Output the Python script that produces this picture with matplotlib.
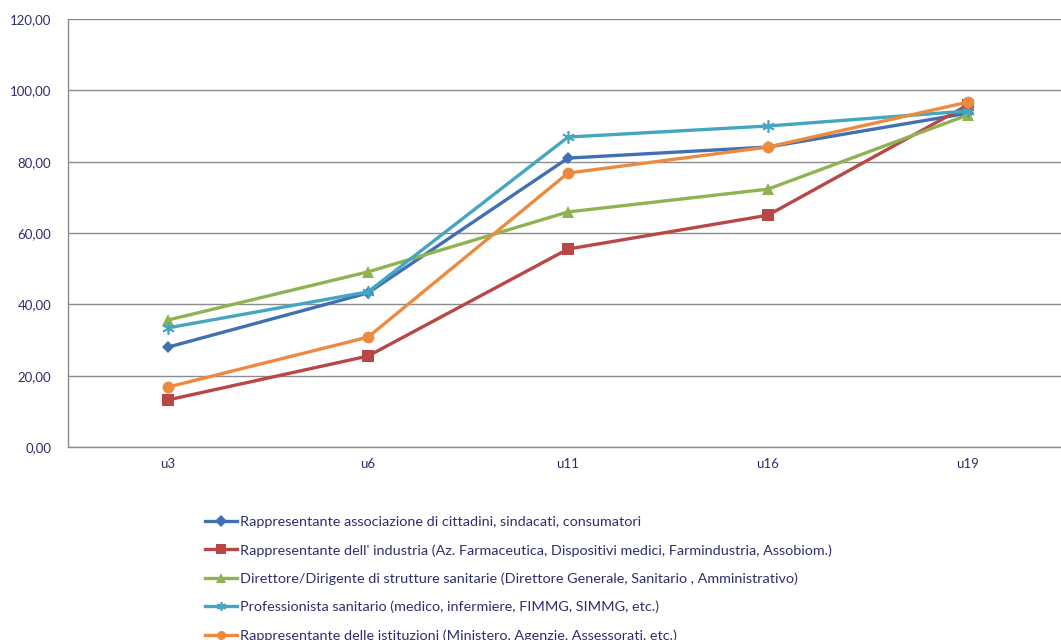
import matplotlib
matplotlib.use("Agg")
import matplotlib.pyplot as plt
from matplotlib.ticker import FuncFormatter

categories = ["u3", "u6", "u11", "u16", "u19"]
labels = [
    "Rappresentante associazione di cittadini, sindacati, consumatori",
    "Rappresentante dell' industria (Az. Farmaceutica, Dispositivi medici, Farmindustria, Assobiom.)",
    "Direttore/Dirigente di strutture sanitarie (Direttore Generale, Sanitario , Amministrativo)",
    "Professionista sanitario (medico, infermiere, FIMMG, SIMMG, etc.)",
    "Rappresentante delle istituzioni (Ministero, Agenzie, Assessorati, etc.)",
]
cittadini = [28.0, 43.2, 81.0, 84.1, 93.6]
industria = [13.2, 25.5, 55.5, 65.0, 95.9]
direttore = [35.6, 49.1, 65.9, 72.3, 93.1]
professionista = [33.4, 43.5, 86.9, 90.0, 94.2]
istituzioni = [16.8, 30.8, 76.8, 84.1, 96.7]

series = [cittadini, industria, direttore, professionista, istituzioni]
colors = ["#4170B2", "#B94745", "#8FB350", "#44A6C0", "#EC8A40"]
markers = ["D", "s", "^", (6, 2, 0), "o"]
msizes = [6.5, 8, 8, 9, 8.5]

plt.rcParams['font.family'] = ['Lato', 'DejaVu Sans']
fig = plt.figure(figsize=(10.61, 6.4), dpi=100)
ax = fig.add_axes([68/1061, 193/640, 1000/1061, 428/640])

x = list(range(len(categories)))
handles = []
for vals, c, m, ms, lab in zip(series, colors, markers, msizes, labels):
    kw = dict(markeredgewidth=1.2) if m == (6, 2, 0) else dict(markeredgewidth=0)
    h, = ax.plot(x, vals, color=c, lw=2.4, marker=m, markersize=ms,
                 markerfacecolor=c, markeredgecolor=c, label=lab, **kw)
    handles.append(h)

ax.set_xlim(-0.5, 4.5)
ax.set_ylim(0, 120)
ax.set_yticks(range(0, 121, 20))
ax.yaxis.set_major_formatter(FuncFormatter(lambda v, p: f"{v:.2f}".replace(".", ",")))
ax.set_xticks(x)
ax.set_xticklabels(categories)
ax.grid(axis='y', color='#8C8C8C', lw=1)
ax.set_axisbelow(True)
for s in ['top', 'right']:
    ax.spines[s].set_visible(False)
for s in ['left', 'bottom']:
    ax.spines[s].set_color('#8C8C8C')
    ax.spines[s].set_linewidth(1)
ax.tick_params(length=0, labelsize=9.5, colors='#2E2E6E', pad=8)
ax.tick_params(axis='y', pad=12)

leg = fig.legend(handles=handles, loc='upper left', bbox_to_anchor=(205/1061, 1 - 516/640),
                 frameon=False, fontsize=10.4, labelspacing=1.1, handlelength=2.2,
                 handletextpad=0.2, borderaxespad=0, borderpad=0)
for t in leg.get_texts():
    t.set_color('#2E2E6E')
for lh in leg.legend_handles:
    lh.set_markersize(6.5)

fig.savefig("out.png", dpi=100)
